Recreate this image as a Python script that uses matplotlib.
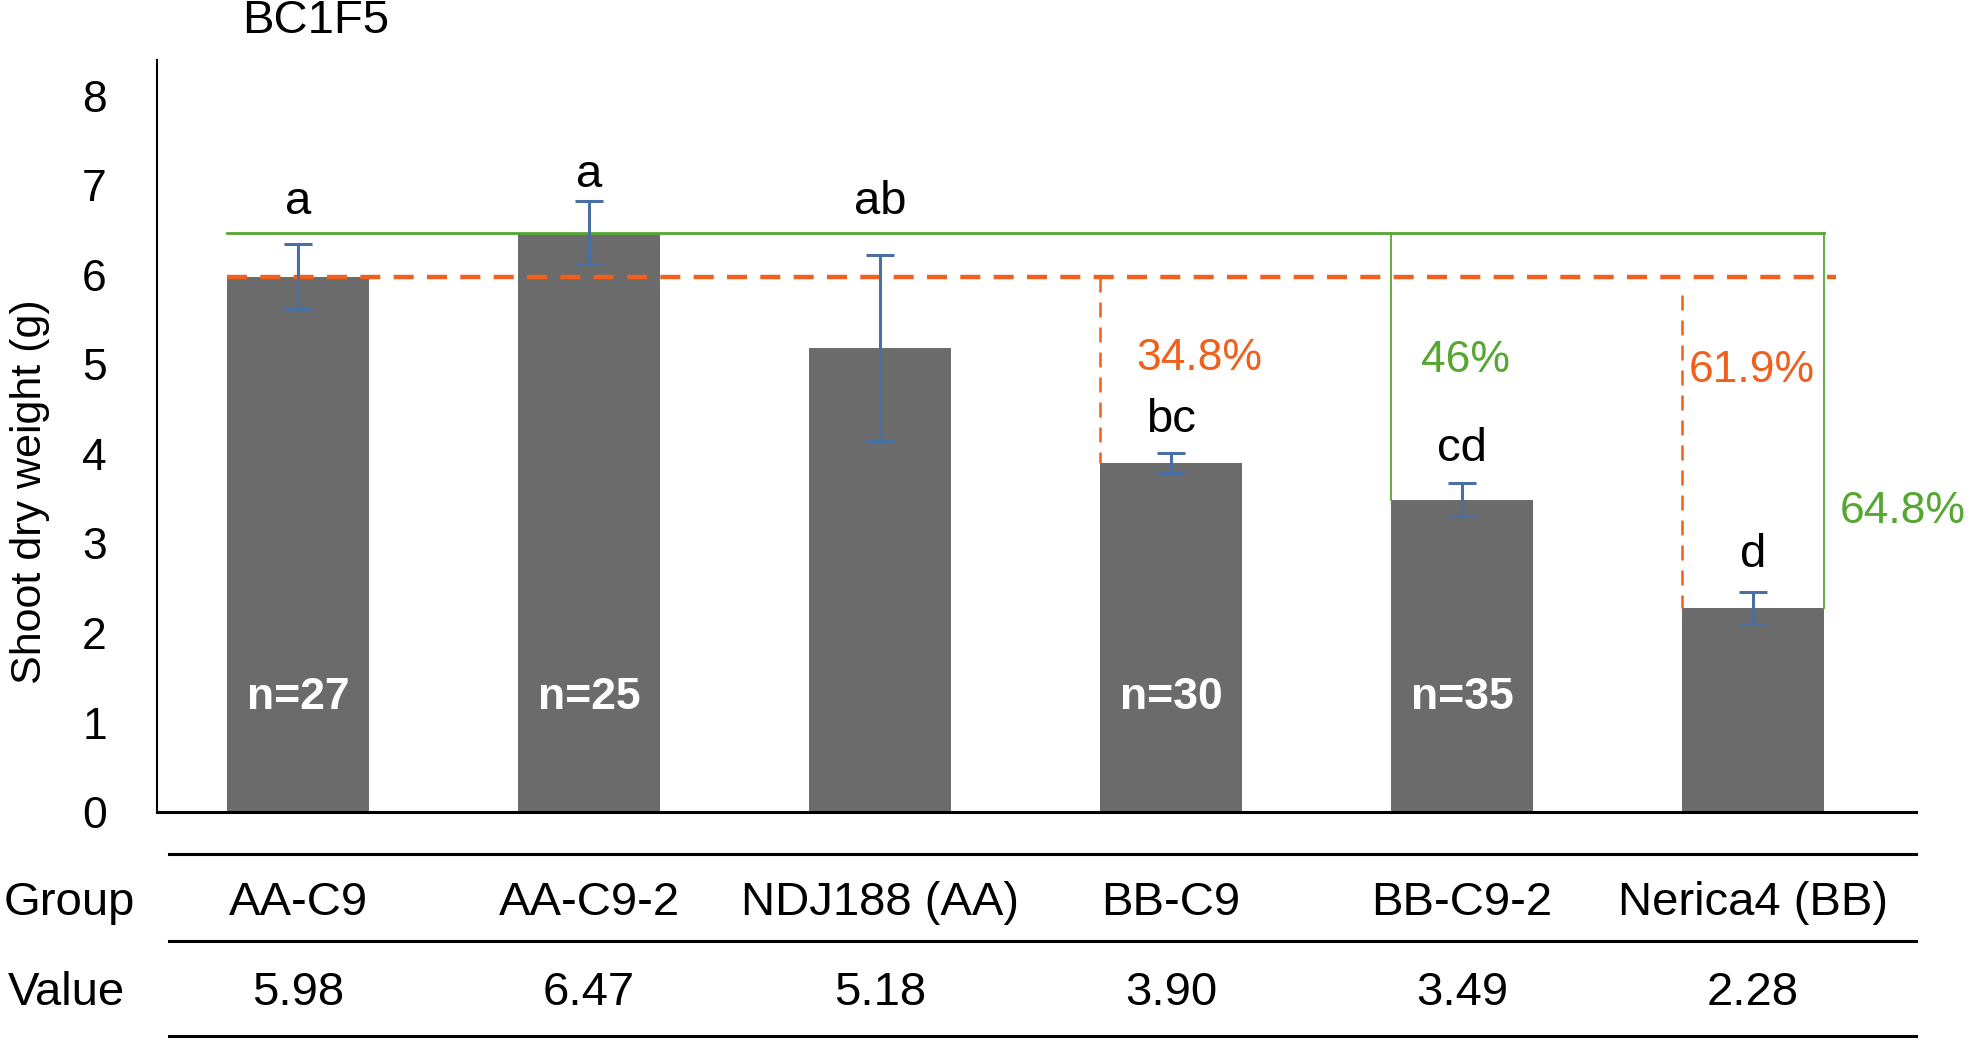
import numpy as np
import matplotlib
matplotlib.use("Agg")
from matplotlib import pyplot as plt

plt.rcParams['font.family'] = ['Liberation Sans', 'DejaVu Sans']

# data
groups = ["AA-C9", "AA-C9-2", "NDJ188 (AA)", "BB-C9", "BB-C9-2", "Nerica4 (BB)"]
values = [5.98, 6.47, 5.18, 3.90, 3.49, 2.28]
errors = [0.36, 0.35, 1.04, 0.11, 0.18, 0.18]
letters = ["a", "a", "ab", "bc", "cd", "d"]
letter_y = [6.68, 6.98, 6.68, 4.24, 3.92, 2.74]
n_labels = ["n=27", "n=25", "", "n=30", "n=35", ""]
pct_orange = ["34.8%", "61.9%"]
pct_green = ["46%", "64.8%"]

bar_color = "#6b6b6b"
err_color = "#4a6fa3"
orange = "#f0601c"
green = "#56a632"
width = 0.49

fig = plt.figure(figsize=(19.69, 10.40), dpi=100)
ax = fig.add_axes([0.0797, 0.2192, 0.8933, 0.7231])

x = np.arange(len(groups))
ax.bar(x, values, width=width, color=bar_color, zorder=2)
ax.errorbar(x, values, yerr=errors, fmt='none', ecolor=err_color,
            elinewidth=2.2, capsize=10, capthick=2.2, zorder=4)

# reference lines: AA-C9 (orange, dashed) and AA-C9-2 (green)
left_edge = x[0] - width/2
right_edge = x[-1] + width/2
ax.plot([left_edge, right_edge], [values[1], values[1]], color=green, lw=2, zorder=3)
ax.plot([x[4] - width/2]*2, [values[1], values[4]], color=green, lw=1.3, zorder=3)
ax.plot([right_edge]*2, [values[1], values[5]], color=green, lw=1.3, zorder=3)

ax.plot([left_edge, right_edge + 0.04], [values[0], values[0]], color=orange, lw=3.2,
        dashes=(4.5, 3), zorder=3)
ax.plot([x[3] - width/2]*2, [values[0], values[3]], color=orange, lw=1.8,
        dashes=(6, 4), zorder=3)
ax.plot([x[5] - width/2]*2, [values[0] - 0.2, values[5]], color=orange, lw=1.8,
        dashes=(6, 4), zorder=3)

# percent labels
ax.text(2.88, 4.94, pct_orange[0], color=orange, fontsize=32)
ax.text(4.78, 4.80, pct_orange[1], color=orange, fontsize=32)
ax.text(3.86, 4.91, pct_green[0], color=green, fontsize=32)
ax.text(5.30, 3.23, pct_green[1], color=green, fontsize=32)

# significance letters and n labels
for i in range(len(groups)):
    ax.text(x[i], letter_y[i], letters[i], ha='center', va='baseline', fontsize=34)
    if n_labels[i]:
        ax.text(x[i], 1.28, n_labels[i], ha='center', va='center', fontsize=32,
                color='white', fontweight='bold')

ax.set_xlim(-0.485, 5.56)
ax.set_ylim(0, 8.4)
ax.set_yticks(range(0, 9))
ax.set_xticks([])
ax.tick_params(axis='y', length=0, pad=36, labelsize=32)
for s in ['top', 'right']:
    ax.spines[s].set_visible(False)
ax.spines['left'].set_linewidth(1.5)
ax.spines['bottom'].set_linewidth(2.2)

fig.text(0.015, 0.5275, "Shoot dry weight (g)", rotation=90, ha='center', va='center',
         fontsize=31)
fig.text(0.123, 0.980, "BC1F5", ha='left', va='center', fontsize=34)

# table under the chart
trans = matplotlib.transforms.blended_transform_factory(ax.transData, fig.transFigure)
for yy in [0.1788, 0.0952, 0.0038]:
    fig.add_artist(plt.Line2D([0.0858, 0.973], [yy, yy], color='black', lw=2.2))
fig.text(0.002, 0.1317, "Group", ha='left', va='center', fontsize=34)
fig.text(0.004, 0.045, "Value", ha='left', va='center', fontsize=34)
for i in range(len(groups)):
    ax.text(x[i], 0.1317, groups[i], transform=trans, ha='center', va='center', fontsize=34)
    ax.text(x[i], 0.045, "%.2f" % values[i], transform=trans, ha='center', va='center',
            fontsize=34)

fig.savefig("out.png", dpi=100)
